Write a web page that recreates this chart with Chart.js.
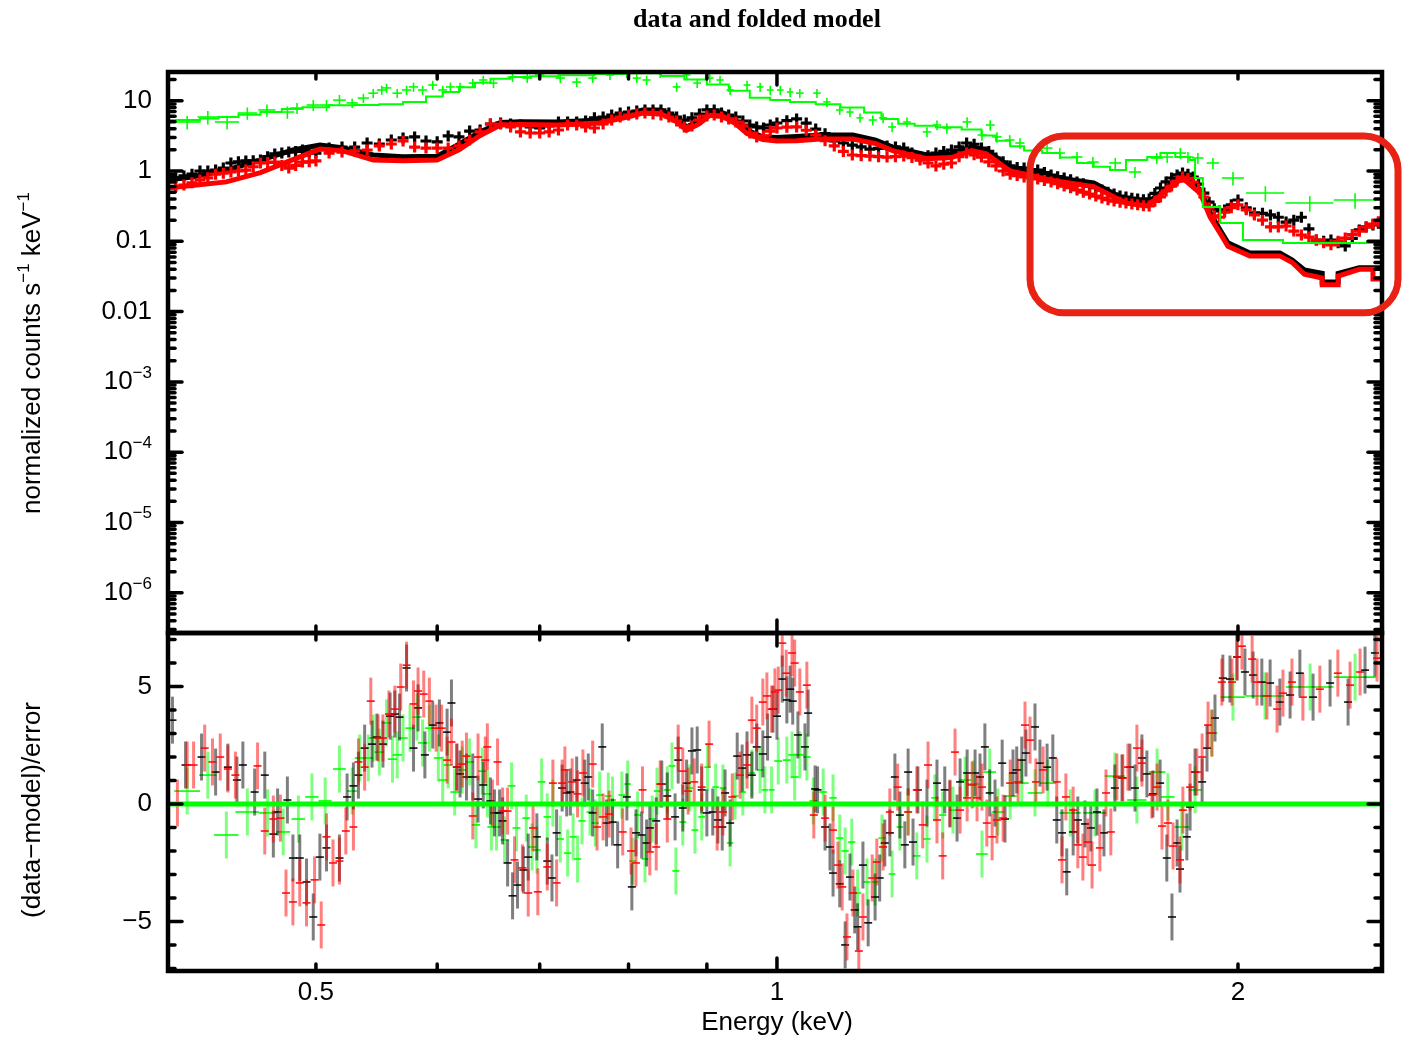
<!DOCTYPE html>
<html>
<head>
<meta charset="utf-8">
<title>data and folded model</title>
<script src="https://cdn.jsdelivr.net/npm/chart.js@4.4.1/dist/chart.umd.min.js"></script>
<style>
  body { margin: 0; background: #fff; }
  #wrap { position: relative; width: 1409px; height: 1039px; }
  #wrap canvas { position: absolute; left: 0; top: 0; }
</style>
</head>
<body>
<div id="wrap">
  <canvas id="spec" width="1409" height="1039"></canvas>
  <canvas id="resid" width="1409" height="1039"></canvas>
</div>
<script>
// axis limits
const xMin = 0.4003, xMax = 2.4835;          // keV
const specMin = 2.68e-7, specMax = 25.6;      // counts s-1 keV-1
const resMin = -7.11, resMax = 7.28;          // sigma

// ---- top panel: data (black = group 1, red = group 2, green = group 3)
const blackE = [0.40,0.41,0.42,0.43,0.44,0.45,0.46,0.47,0.48,0.49,
  0.50,0.51,0.52,0.53,0.54,0.55,0.56,0.57,0.58,0.59,
  0.60,0.61,0.62,0.63,0.64,0.65,0.66,0.67,0.68,0.69,
  0.70,0.71,0.72,0.73,0.74,0.75,0.76,0.77,0.78,0.79,
  0.80,0.81,0.82,0.83,0.84,0.85,0.86,0.87,0.88,0.89,
  0.90,0.91,0.92,0.93,0.94,0.95,0.96,0.97,0.98,0.99,
  1.00,
  1.03,1.06,1.09,1.12,1.15,1.18,1.21,1.24,1.27,1.30,
  1.33,1.36,1.39,1.42,1.45,1.48,1.51,1.54,1.57,1.60,
  1.63,1.66,1.69,1.72,1.75,1.78,1.81,1.84,1.87,1.90,
  1.93,1.96,
  2.00,2.05,2.10,2.15,2.20,2.25,2.30,2.35,2.40,2.45];
const blackC = [0.76,0.85,1.0,1.03,1.30,1.39,1.43,1.75,1.86,1.99,
  1.80,2.12,2.19,2.19,2.5,2.42,2.76,2.95,3.05,2.67,
  2.6,3.15,3.05,3.7,3.83,4.66,4.82,4.66,4.51,4.23,
  4.09,4.37,4.98,4.98,4.98,5.14,5.7,5.86,6.26,6.68,
  6.9,7.13,7.38,7.38,7.38,6.68,5.86,5.31,5.7,6.45,
  7.38,7.38,6.68,6.26,5.86,5.14,4.51,4.23,4.09,4.51,
  4.82,
  5.5,3.95,2.67,2.34,2.05,2.27,2.12,1.58,1.80,1.99,
  2.5,2.12,1.53,1.18,1.10,1.03,0.877,0.795,0.698,0.61,
  0.537,0.47,0.427,0.40,0.40,0.573,0.795,0.937,0.821,0.486,
  0.29,0.279,
  0.387,0.253,0.237,0.188,0.22,0.104,0.104,0.086,0.145,0.171];
const redE = blackE;
const redC = [0.573,0.632,0.745,0.9,0.968,1.03,1.30,1.34,1.10,1.34,
  1.39,1.8,1.86,1.93,1.99,2.27,2.42,2.67,2.19,2.12,
  2.12,2.12,2.27,2.76,3.6,4.66,4.66,4.23,3.6,3.47,
  3.47,3.6,3.83,4.51,4.51,4.23,4.09,4.66,5.31,5.86,
  6.26,6.45,6.68,6.45,6.26,5.86,5.14,4.23,4.37,5.31,
  6.05,6.26,5.86,5.5,4.98,4.37,3.47,3.05,3.15,3.7,
  4.09,
  4.23,3.25,2.27,1.69,1.63,1.58,1.63,1.43,1.18,1.30,
  1.80,1.58,1.18,0.9,0.821,0.77,0.698,0.61,0.537,0.47,
  0.413,0.373,0.351,0.33,0.318,0.427,0.61,0.821,0.698,0.427,
  0.23,0.26,
  0.33,0.237,0.16,0.165,0.123,0.104,0.089,0.111,0.139,0.176];
// channels in between the ones above (the plot is densely sampled)
const fineE = [0.405,0.415,0.425,0.435,0.445,0.455,0.465,0.475,0.485,0.495,
  1.015,1.045,1.075,1.105,1.135,1.165,1.195,1.225,1.255,1.285,
  1.315,1.345,1.375,1.405,1.435,1.465,1.495,1.525,1.555,1.585,
  1.615,1.645,1.675,1.705,1.735,1.765,1.795,1.825,1.855,1.885,
  1.915,1.945,1.98,2.025,2.075,2.125,2.175,2.225,2.275,2.325,
  2.375,2.425,2.47];
const blackFineC = [0.8,0.9,1.0,1.1,1.35,1.4,1.6,1.8,1.9,1.9,
  5.2,4.8,3.4,2.5,2.2,2.1,2.2,1.8,1.65,1.9,
  2.2,2.4,1.9,1.35,1.12,1.05,0.95,0.83,0.75,0.66,
  0.58,0.5,0.44,0.41,0.39,0.48,0.7,0.88,0.9,0.65,
  0.36,0.27,0.33,0.30,0.25,0.22,0.20,0.15,0.10,0.095,
  0.11,0.16,0.18];
const redFineC = [0.6,0.68,0.8,0.93,1.0,1.15,1.32,1.2,1.2,1.35,
  4.2,3.8,2.7,1.9,1.65,1.6,1.6,1.55,1.3,1.25,
  1.6,1.7,1.35,1.0,0.86,0.8,0.73,0.66,0.58,0.5,
  0.44,0.39,0.36,0.34,0.32,0.37,0.52,0.72,0.78,0.55,
  0.3,0.22,0.3,0.28,0.2,0.16,0.14,0.115,0.095,0.1,
  0.125,0.16,0.19];

const greenE = [0.412,0.425,0.4375,0.451,0.4645,0.479,0.486,0.498,0.508,0.518,
  0.528,0.537,0.545,0.552,0.556,0.565,0.573,0.579,0.587,0.596,
  0.605,0.612,0.621,0.633,0.643,0.653,0.672,0.687,0.700,0.722,
  0.740,0.758,0.778,0.798,0.810,0.822,0.839,0.860,0.873,0.887,
  0.904,0.918,0.932,0.956,0.975,0.990,1.005,1.020,1.035,1.062,
  1.078,1.099,1.116,1.133,1.155,1.173,1.189,1.216,1.253,1.272,
  1.291,1.331,1.361,1.378,1.392,1.419,1.441,1.501,1.530,1.570,
  1.608,1.663,1.713,1.770,1.798,1.834,1.855,1.883,1.926,1.985,
  2.084,2.228,2.385];
const greenC = [4.98,5.86,4.98,6.68,7.38,6.9,7.87,8.68,8.68,10.2,
  9.3,10.9,12.8,14.2,15.2,12.8,14.2,15.7,14.2,16.7,
  14.2,15.7,15.7,17.8,19.7,17.8,21.7,21.0,23.2,21.0,
  18.4,21.0,23.2,24.7,21.0,19.7,24.7,15.7,23.2,17.8,
  21.0,19.7,14.2,16.7,15.7,14.2,14.2,13.3,12.8,12.8,
  9.6,7.38,6.9,5.7,5.31,5.7,4.23,4.98,3.6,4.51,
  4.09,4.98,3.25,4.51,3.05,2.76,2.50,2.12,1.80,1.58,
  1.34,1.30,0.968,1.53,1.58,1.80,1.58,1.53,1.30,0.795,
  0.486,0.351,0.387];
// half bin width (keV) and relative 1-sigma error of the green spectrum
const greenBinHalf = [0.0085,0.0065,0.008,0.0065,0.006,0.005,0.005,0.005,0.005,0.005,
  0.0045,0.0045,0.004,0.004,0.004,0.004,0.004,0.004,0.004,0.004,
  0.004,0.004,0.004,0.004,0.004,0.004,0.005,0.005,0.005,0.005,
  0.005,0.005,0.005,0.005,0.005,0.005,0.005,0.005,0.005,0.005,
  0.005,0.005,0.005,0.005,0.005,0.005,0.005,0.005,0.006,0.006,
  0.006,0.006,0.006,0.006,0.007,0.007,0.007,0.007,0.008,0.008,
  0.008,0.009,0.009,0.009,0.010,0.010,0.010,0.012,0.012,0.013,
  0.014,0.015,0.016,0.016,0.016,0.016,0.016,0.016,0.018,0.033,
  0.060,0.080,0.075];
const greenRelErr = [0.22,0.22,0.22,0.2,0.2,0.2,0.18,0.18,0.18,0.18,
  0.15,0.15,0.15,0.15,0.15,0.15,0.15,0.15,0.15,0.15,
  0.15,0.15,0.15,0.15,0.15,0.15,0.15,0.15,0.15,0.15,
  0.15,0.15,0.15,0.15,0.15,0.15,0.15,0.15,0.15,0.15,
  0.15,0.15,0.15,0.15,0.15,0.15,0.15,0.15,0.15,0.15,
  0.15,0.15,0.15,0.15,0.16,0.16,0.16,0.16,0.16,0.16,
  0.17,0.17,0.17,0.17,0.17,0.17,0.17,0.18,0.18,0.18,
  0.18,0.18,0.18,0.18,0.18,0.18,0.18,0.18,0.18,0.22,
  0.25,0.25,0.25];

// ---- top panel: folded models
const blackModelE = [0.40,0.415,0.437,0.46,0.483,0.503,0.52,0.545,0.57,0.60,
  0.62,0.64,0.66,0.68,0.72,0.766,0.80,0.817,0.839,0.86,
  0.873,0.89,0.904,0.922,0.94,0.956,0.979,1.00,1.03,1.067,
  1.121,1.16,1.19,1.253,1.30,1.34,1.37,1.42,1.51,1.61,
  1.69,1.745,1.80,1.84,1.89,1.918,1.947,1.97,2.036,2.13,
  2.17,2.21,2.27,2.27,2.325,2.325,2.40,2.49];
const blackModelC = [0.745,0.82,1.03,1.43,1.99,2.34,2.15,1.69,1.6,1.62,
  2.4,3.6,4.9,5.0,4.98,5.31,6.5,7.38,7.38,5.8,
  4.23,5.2,6.9,6.68,5.2,3.83,3.05,3.0,3.1,3.25,
  3.25,2.75,2.19,1.69,1.75,2.2,1.99,1.14,0.82,0.675,
  0.387,0.351,0.6,0.877,0.537,0.253,0.145,0.095,0.068,0.068,
  0.054,0.039,0.035,0.0264,0.0264,0.035,0.042,0.042];
const redModelE = [0.40,0.415,0.437,0.46,0.483,0.503,0.52,0.545,0.57,0.60,
  0.62,0.64,0.66,0.68,0.72,0.766,0.80,0.817,0.839,0.86,
  0.873,0.89,0.904,0.922,0.94,0.956,0.979,1.00,1.03,1.067,
  1.121,1.16,1.19,1.253,1.30,1.34,1.37,1.42,1.51,1.61,
  1.69,1.745,1.80,1.84,1.89,1.918,1.947,1.97,2.036,2.13,
  2.17,2.21,2.27,2.27,2.325,2.325,2.40,2.45,2.45,2.49];
const redModelC = [0.573,0.62,0.70,0.95,1.45,2.05,1.95,1.43,1.40,1.43,
  2.0,3.2,4.5,4.6,4.51,4.82,5.9,6.68,6.6,5.0,
  3.8,4.7,6.2,6.0,4.7,3.4,2.8,2.67,2.7,2.85,
  2.85,2.45,1.95,1.5,1.55,1.95,1.75,1.0,0.74,0.6,
  0.351,0.318,0.55,0.795,0.48,0.22,0.13,0.085,0.062,0.062,
  0.05,0.034,0.030,0.024,0.024,0.032,0.040,0.040,0.029,0.029];
// green model as bin low edges
const greenModelE = [0.40,0.42,0.432,0.445,0.46,0.475,0.49,0.51,0.53,0.55,
  0.57,0.59,0.605,0.62,0.635,0.65,0.67,0.69,0.72,0.76,
  0.80,0.84,0.87,0.90,0.93,0.96,0.99,1.02,1.06,1.10,
  1.14,1.17,1.20,1.23,1.27,1.32,1.36,1.39,1.42,1.45,
  1.49,1.53,1.57,1.61,1.65,1.69,1.745,1.78,1.82,1.86,
  1.875,1.897,1.947,2.015,2.14,2.31,2.49];
const greenModelC = [4.82,5.31,5.6,5.86,6.3,6.9,7.6,8.1,8.6,8.7,
  8.9,9.6,11.5,13.3,15.5,18.0,20.5,21.7,22.3,23.0,
  24.0,24.5,22.5,20.0,17.0,13.8,11.0,10.2,9.6,8.9,
  8.0,6.8,5.5,4.7,4.4,4.2,3.9,3.2,2.7,2.25,
  1.95,1.8,1.55,1.30,1.15,1.03,1.43,1.58,1.80,1.58,
  1.43,0.795,0.308,0.182,0.104,0.0946,0.0946];

// ---- bottom panel: residuals (data-model)/error
const resBlackE = [0.403,0.411,0.421,0.430,0.438,0.444,0.448,0.456,0.463,0.469,
  0.472,0.479,0.483,0.488,0.493,0.498,0.503,0.508,0.518,0.524,
  0.529,0.533,0.538,0.544,0.548,0.553,0.559,0.563,0.567,0.573,
  0.579,0.583,0.589,0.596,0.602,0.609,0.613,0.618,0.621,0.627,
  0.633,0.638,0.643,0.650,0.654,0.659,0.662,0.667,0.672,0.677,
  0.683,0.688,0.697,0.708,0.713,0.718,0.724,0.729,0.733,0.740,
  0.749,0.753,0.758,0.769,0.774,0.781,0.787,0.798,0.804,0.809,
  0.816,0.822,0.826,0.834,0.841,0.848,0.858,0.862,0.868,0.873,
  0.880,0.887,0.893,0.900,0.908,0.915,0.921,0.925,0.932,0.942,
  0.949,0.956,0.963,0.970,0.979,0.986,0.994,1.000,1.008,1.015,
  1.020,1.024,1.032,1.043,1.048,1.059,1.063,1.075,1.083,1.088,
  1.099,1.108,1.116,1.124,1.129,1.138,1.147,1.159,1.167,1.176,
  1.185,1.194,1.203,1.212,1.218,1.227,1.236,1.253,1.272,1.287,
  1.297,1.311,1.317,1.331,1.347,1.357,1.367,1.377,1.388,1.403,
  1.409,1.426,1.434,1.445,1.454,1.474,1.485,1.501,1.514,1.523,
  1.535,1.546,1.561,1.572,1.589,1.603,1.618,1.635,1.662,1.680,
  1.700,1.713,1.731,1.744,1.760,1.779,1.797,1.811,1.825,1.833,
  1.852,1.861,1.875,1.895,1.909,1.932,1.955,1.976,1.997,2.021,
  2.046,2.073,2.099,2.130,2.163,2.195,2.239,2.297,2.360,2.421,
  2.457];
const resBlackR = [3.57,1.66,2.0,1.36,1.57,1.02,1.66,0.51,1.23,-1.28,
  -0.34,0.17,-2.30,-2.30,-3.32,-4.81,-2.26,-1.87,-2.30,0.30,
  0.77,1.23,2.38,2.55,2.85,2.55,3.74,3.83,3.70,5.79,
  2.38,4.09,2.09,3.36,3.45,3.06,4.30,1.57,1.28,1.15,
  1.15,0.21,0.81,0.13,-0.38,-0.38,-0.72,-2.51,-3.91,-3.45,
  -2.81,-2.26,-1.40,-2.43,-3.15,-1.23,0.68,0.47,0.51,1.02,
  0.89,1.15,-0.38,2.43,-0.81,-0.77,-1.74,0.30,-3.53,-1.23,
  -1.32,-1.66,-1.02,-0.72,0.85,0.34,-0.55,1.87,-0.17,0.89,
  2.26,2.30,0.60,-0.38,-0.34,-0.68,-0.98,0.47,-0.81,2.04,
  1.53,2.09,1.23,2.43,2.13,2.85,4.04,3.74,5.32,4.43,
  4.89,4.38,2.94,2.43,3.87,0.64,0.60,-0.98,-1.83,-2.94,
  -3.40,-6.0,-3.11,-4.51,-5.23,-2.60,-5.06,-3.96,-3.15,-1.66,
  -1.23,1.15,-0.47,-1.74,1.36,-1.62,0.60,0.04,0.89,0.60,
  0.0,-0.60,0.94,1.32,1.32,1.15,2.43,0.47,0.04,1.74,
  -0.64,1.32,1.45,1.87,2.17,3.28,1.74,1.57,1.96,-0.68,
  -1.23,-2.89,-1.19,-0.68,-0.85,-1.02,-0.34,-1.23,0.68,1.11,
  1.57,0.68,1.96,1.28,0.43,0.89,-2.30,-4.81,-1.66,-2.77,
  -1.40,-0.13,1.36,0.94,2.38,3.66,5.36,5.32,6.26,5.62,
  5.49,5.19,5.15,4.34,4.64,5.57,4.55,5.15,4.34,5.70,
  6.43];
const resRedE = [0.406,0.412,0.416,0.423,0.428,0.433,0.438,0.443,0.458,0.463,
  0.469,0.474,0.478,0.483,0.488,0.493,0.499,0.504,0.508,0.513,
  0.518,0.523,0.529,0.533,0.538,0.543,0.549,0.553,0.558,0.563,
  0.568,0.573,0.579,0.583,0.588,0.593,0.599,0.604,0.609,0.613,
  0.618,0.623,0.627,0.633,0.638,0.645,0.647,0.652,0.657,0.662,
  0.667,0.674,0.682,0.688,0.693,0.698,0.708,0.714,0.718,0.724,
  0.727,0.735,0.741,0.747,0.758,0.763,0.770,0.777,0.793,0.803,
  0.809,0.817,0.826,0.834,0.839,0.848,0.862,0.868,0.875,0.883,
  0.893,0.903,0.914,0.922,0.935,0.946,0.956,0.963,0.970,0.979,
  0.985,0.992,0.997,1.002,1.008,1.014,1.023,1.027,1.035,1.046,
  1.057,1.075,1.088,1.096,1.103,1.111,1.121,1.131,1.138,1.154,
  1.162,1.173,1.185,1.199,1.218,1.234,1.245,1.255,1.272,1.283,
  1.297,1.307,1.317,1.331,1.341,1.351,1.361,1.371,1.382,1.392,
  1.405,1.420,1.437,1.452,1.463,1.476,1.492,1.523,1.535,1.544,
  1.561,1.572,1.584,1.596,1.606,1.625,1.640,1.652,1.667,1.682,
  1.695,1.718,1.731,1.757,1.771,1.784,1.800,1.814,1.833,1.841,
  1.861,1.880,1.895,1.912,1.923,1.952,1.982,1.997,2.012,2.043,
  2.058,2.089,2.121,2.140,2.169,2.205,2.262,2.324,2.367,2.403,
  2.465];
const resRedR = [0.04,1.66,1.66,2.38,1.79,2.0,1.49,1.23,1.62,-1.15,
  -0.64,-0.60,-3.79,-4.17,-3.36,-4.21,-3.23,-5.15,-1.40,-2.51,
  -2.43,-1.15,-0.98,1.79,1.57,4.38,2.81,2.81,3.83,4.04,
  4.98,5.91,4.26,4.81,4.68,4.38,3.23,3.23,1.87,2.64,
  1.57,1.70,2.04,-0.51,2.0,1.87,2.43,0.04,1.79,-0.30,
  -0.30,-2.38,-2.72,-3.79,-1.02,-3.74,-2.68,0.89,-3.36,0.89,
  1.45,0.94,0.43,1.32,1.70,-0.98,-0.55,-0.43,-1.19,-2.0,
  -2.51,0.60,-2.04,-1.83,0.85,-0.64,2.38,1.40,0.55,0.94,
  0.72,2.55,-0.98,-0.34,0.30,1.23,1.66,3.57,3.23,4.34,
  4.60,4.04,4.77,4.85,6.85,5.57,6.43,6.0,4.77,5.06,
  -0.47,-0.60,-1.11,-2.60,-3.53,-5.66,-3.79,-6.26,-4.81,-3.15,
  -2.47,-1.83,-0.34,0.72,-0.34,0.60,-0.89,1.66,-0.68,-2.21,
  0.04,2.21,-0.26,0.26,0.81,0.26,0.72,-0.81,-1.40,-0.68,
  -0.60,0.89,0.94,3.36,2.72,0.94,1.45,0.94,-2.38,0.30,
  -0.26,-1.74,-2.26,-1.62,-2.60,-1.87,0.47,-1.19,1.15,1.11,
  1.57,2.38,1.74,0.38,0.72,-0.94,-0.81,-1.79,-2.38,-0.26,
  0.72,1.36,2.0,3.36,3.02,5.19,5.19,6.26,6.72,6.17,
  5.19,4.60,4.04,4.72,5.19,4.55,4.89,5.57,5.06,5.62,
  6.21];
const resGreenE = [0.412,0.425,0.437,0.451,0.465,0.476,0.487,0.497,0.507,0.518,
  0.528,0.534,0.541,0.545,0.550,0.556,0.561,0.565,0.570,0.576,
  0.582,0.587,0.593,0.601,0.605,0.610,0.616,0.623,0.630,0.636,
  0.642,0.647,0.651,0.656,0.664,0.671,0.676,0.686,0.692,0.697,
  0.702,0.708,0.714,0.722,0.730,0.736,0.741,0.746,0.755,0.761,
  0.766,0.776,0.781,0.792,0.799,0.805,0.811,0.820,0.829,0.835,
  0.848,0.854,0.859,0.868,0.877,0.884,0.893,0.901,0.912,0.922,
  0.932,0.939,0.950,0.963,0.975,0.982,0.992,1.002,1.015,1.023,
  1.027,1.035,1.046,1.056,1.072,1.088,1.099,1.108,1.119,1.129,
  1.145,1.159,1.171,1.189,1.203,1.218,1.234,1.253,1.268,1.283,
  1.303,1.327,1.343,1.361,1.377,1.394,1.420,1.445,1.474,1.503,
  1.554,1.613,1.662,1.718,1.771,1.800,1.838,1.875,1.923,1.985,
  2.083,2.229,2.385];
const resGreenR = [0.55,1.23,-1.32,-0.34,-0.38,-1.19,-0.64,0.30,0.13,1.49,
  0.55,1.96,1.96,2.81,2.21,3.45,1.91,2.09,2.81,3.23,
  3.70,2.60,3.23,1.96,1.02,1.66,0.51,1.45,1.79,-0.89,
  1.40,0.43,-0.98,-0.98,-1.53,0.77,-1.02,-0.60,-1.83,-1.96,
  0.94,-0.55,0.04,-1.49,-2.09,-1.40,-2.34,-0.72,-0.34,-0.81,
  0.38,0.34,0.17,0.38,0.85,-2.43,-0.47,-2.34,-0.64,0.55,
  0.60,1.62,-2.85,-0.77,0.68,-1.11,-0.55,1.57,0.72,0.68,
  -1.66,0.34,0.51,1.32,1.45,0.60,0.60,1.83,1.87,2.09,
  1.15,2.09,2.0,0.13,0.51,0.26,-1.45,-2.0,-1.62,-3.79,
  -3.32,-3.32,-1.45,-2.98,-0.98,-0.34,-2.21,-1.49,0.26,-0.47,
  -0.26,1.02,0.85,-2.13,1.36,-0.34,0.34,0.89,0.47,0.89,
  -0.38,-0.38,1.19,0.17,1.36,0.30,-0.98,0.60,3.02,4.55,
  4.60,4.98,5.40];
const resGreenBinHalf = [0.008,0.0055,0.008,0.008,0.006,0.005,0.005,0.005,0.005,0.005,
  0.004,0.004,0.004,0.004,0.004,0.004,0.004,0.004,0.004,0.004,
  0.004,0.004,0.004,0.004,0.004,0.004,0.004,0.004,0.004,0.004,
  0.004,0.004,0.004,0.004,0.004,0.004,0.004,0.004,0.004,0.004,
  0.004,0.004,0.004,0.004,0.004,0.004,0.004,0.004,0.004,0.004,
  0.004,0.004,0.004,0.004,0.004,0.004,0.004,0.004,0.004,0.004,
  0.0045,0.0045,0.0045,0.0045,0.0045,0.0045,0.0045,0.0045,0.0045,0.0045,
  0.0045,0.0045,0.0045,0.0045,0.0045,0.0045,0.0045,0.006,0.006,0.006,
  0.006,0.006,0.006,0.006,0.006,0.006,0.006,0.006,0.006,0.006,
  0.006,0.006,0.006,0.006,0.006,0.006,0.007,0.007,0.007,0.007,
  0.007,0.012,0.012,0.012,0.013,0.013,0.014,0.015,0.016,0.018,
  0.025,0.028,0.025,0.025,0.022,0.018,0.020,0.018,0.016,0.037,
  0.060,0.080,0.075];
const residSigma = 1;   // residual error bars are +-1 sigma by definition
const zeroE = [xMin, xMax];
const zeroR = [0, 0];

// tick values and labels
const xMajorTicks = [1];
const xMinorTicks = [0.5, 0.6, 0.7, 0.8, 0.9, 2];
const xLabelVals = [0.5, 1, 2];
const xLabelText = ['0.5', '1', '2'];
const specDecades = [1e-7, 1e-6, 1e-5, 1e-4, 1e-3, 0.01, 0.1, 1, 10];
const specLabelVals = [10, 1, 0.1, 0.01, 1e-3, 1e-4, 1e-5, 1e-6];
const specLabelText = ['10', '1', '0.1', '0.01', '10^\u22123', '10^\u22124', '10^\u22125', '10^\u22126'];
const resMajorTicks = [-5, 0, 5];
const resMinorTicks = [-7, -6, -4, -3, -2, -1, 1, 2, 3, 4, 6, 7];
const resLabelVals = [5, 0, -5];
const resLabelText = ['5', '0', '\u22125'];

// annotation box (keV, counts)
const boxEnergy = [1.463, 2.544];
const boxCounts = [3.15, 0.0096];

const FONT = '"Liberation Sans", Arial, Helvetica, sans-serif';
const TEXT_SIZE = 26;

const pts = (xs, ys) => xs.map((x, i) => ({ x: x, y: ys[i] }));

// text with ^superscripts
function drawRich(ctx, str, x, y, align, size) {
  const parts = str.split(/(\^\S+)/).filter(s => s.length);
  const big = size + 'px ' + FONT;
  const small = Math.round(size * 0.64) + 'px ' + FONT;
  const segs = parts.map(p => {
    const sup = p[0] === '^';
    const t = sup ? p.slice(1) : p;
    ctx.font = sup ? small : big;
    return { t: t, sup: sup, w: ctx.measureText(t).width };
  });
  const total = segs.reduce((s, g) => s + g.w, 0);
  let cx = align === 'right' ? x - total : align === 'center' ? x - total / 2 : x;
  ctx.textAlign = 'left';
  ctx.textBaseline = 'middle';
  segs.forEach(g => {
    ctx.font = g.sup ? small : big;
    ctx.fillText(g.t, cx, g.sup ? y - size * 0.34 : y);
    cx += g.w;
  });
}

// error bars, drawn just before their own dataset
const errorBars = {
  id: 'errorBars',
  beforeDatasetDraw(chart, args) {
    const ds = chart.data.datasets[args.index];
    const eb = ds.errorBars;
    if (!eb) return;
    const xs = chart.scales.x, ys = chart.scales.y, a = chart.chartArea, ctx = chart.ctx;
    ctx.save();
    ctx.beginPath();
    ctx.rect(a.left, a.top, a.right - a.left, a.bottom - a.top);
    ctx.clip();
    ds.data.forEach((p, i) => {
      const px = xs.getPixelForValue(p.x), py = ys.getPixelForValue(p.y);
      if (eb.yLo) {
        ctx.strokeStyle = eb.yColor; ctx.lineWidth = eb.yWidth;
        ctx.beginPath();
        ctx.moveTo(px, ys.getPixelForValue(eb.yLo[i]));
        ctx.lineTo(px, ys.getPixelForValue(eb.yHi[i]));
        ctx.stroke();
      }
      if (eb.xLo) {
        ctx.strokeStyle = eb.xColor; ctx.lineWidth = eb.xWidth;
        ctx.beginPath();
        ctx.moveTo(xs.getPixelForValue(eb.xLo[i]), py);
        ctx.lineTo(xs.getPixelForValue(eb.xHi[i]), py);
        ctx.stroke();
      }
    });
    ctx.restore();
  }
};

// PGPLOT style box with inward ticks and labels
const frame = {
  id: 'frame',
  afterDraw(chart, args, o) {
    const ctx = chart.ctx, a = chart.chartArea, xs = chart.scales.x, ys = chart.scales.y;
    ctx.save();
    ctx.strokeStyle = '#000';
    ctx.lineCap = 'round';
    const seg = (x1, y1, x2, y2) => { ctx.beginPath(); ctx.moveTo(x1, y1); ctx.lineTo(x2, y2); ctx.stroke(); };
    ctx.lineWidth = 3.5;
    const xt = (v, len) => { const p = xs.getPixelForValue(v); seg(p, a.top, p, a.top + len); seg(p, a.bottom, p, a.bottom - len); };
    const yt = (v, len) => {
      const p = ys.getPixelForValue(v);
      if (p < a.top - 1 || p > a.bottom + 1) return;
      seg(a.left, p, a.left + len, p); seg(a.right, p, a.right - len, p);
    };
    o.xMajor.forEach(v => xt(v, 13));
    o.xMinor.forEach(v => xt(v, 7));
    o.yMajor.forEach(v => yt(v, 14));
    o.yMinor.forEach(v => yt(v, 7));
    ctx.lineCap = 'butt';
    ctx.lineWidth = 4.5;
    ctx.strokeRect(a.left, a.top, a.right - a.left, a.bottom - a.top);

    ctx.fillStyle = '#000';
    o.yLabelVals.forEach((v, i) => drawRich(ctx, o.yLabelText[i], 152, ys.getPixelForValue(v), 'right', TEXT_SIZE));
    if (o.xLabelVals) {
      o.xLabelVals.forEach((v, i) => drawRich(ctx, o.xLabelText[i], xs.getPixelForValue(v), 993, 'center', TEXT_SIZE));
    }
    if (o.title) {
      ctx.font = 'bold 26px "Liberation Serif", "Times New Roman", serif';
      ctx.textAlign = 'center'; ctx.textBaseline = 'middle';
      ctx.fillText(o.title, 757, 20);
    }
    if (o.xTitle) drawRich(ctx, o.xTitle, 777, 1023, 'center', TEXT_SIZE);
    if (o.yTitle) {
      ctx.save();
      ctx.translate(33, o.yTitleY);
      ctx.rotate(-Math.PI / 2);
      drawRich(ctx, o.yTitle, 0, 0, 'center', TEXT_SIZE);
      ctx.restore();
    }
    ctx.restore();
  }
};

const redBox = {
  id: 'redBox',
  afterDraw(chart) {
    const ctx = chart.ctx, xs = chart.scales.x, ys = chart.scales.y;
    const x1 = xs.getPixelForValue(boxEnergy[0]), x2 = xs.getPixelForValue(boxEnergy[1]);
    const y1 = ys.getPixelForValue(boxCounts[0]), y2 = ys.getPixelForValue(boxCounts[1]);
    ctx.save();
    ctx.strokeStyle = 'rgb(232,34,20)';
    ctx.lineWidth = 7;
    ctx.beginPath();
    ctx.roundRect(x1, y1, x2 - x1, y2 - y1, 34);
    ctx.stroke();
    ctx.restore();
  }
};

function baseOptions(yType, yMin, yMax, padding, frameOpts) {
  return {
    responsive: false,
    animation: false,
    devicePixelRatio: 1,
    events: [],
    layout: { padding: padding },
    scales: {
      x: { type: 'logarithmic', min: xMin, max: xMax, display: false },
      y: { type: yType, min: yMin, max: yMax, display: false }
    },
    plugins: { legend: { display: false }, tooltip: { enabled: false }, frame: frameOpts }
  };
}

// ---------- spectrum panel
const specMinor = [];
specDecades.forEach(d => [2, 3, 4, 5, 6, 7, 8, 9].forEach(m => specMinor.push(d * m)));

const crossStyle = { pointStyle: 'cross', pointRadius: 5.5, pointBorderWidth: 3.2, clip: 0 };

new Chart(document.getElementById('spec'), {
  type: 'scatter',
  data: {
    datasets: [
      { label: 'green model', data: pts(greenModelE, greenModelC), showLine: true, stepped: 'after',
        borderColor: '#00ff00', borderWidth: 2, pointRadius: 0, order: 0, clip: 0 },
      { label: 'green data', data: pts(greenE, greenC), pointRadius: 0, order: 1, clip: 0,
        errorBars: {
          xLo: greenE.map((e, i) => e - greenBinHalf[i]), xHi: greenE.map((e, i) => e + greenBinHalf[i]),
          yLo: greenC.map((c, i) => c * (1 - greenRelErr[i])), yHi: greenC.map((c, i) => c * (1 + greenRelErr[i])),
          xColor: '#00ff00', yColor: '#00ff00', xWidth: 1.6, yWidth: 1.6 } },
      Object.assign({ label: 'red data', data: pts(redE, redC).concat(pts(fineE, redFineC)),
        borderColor: '#ff0000', order: 2 }, crossStyle),
      { label: 'red model', data: pts(redModelE, redModelC), showLine: true,
        borderColor: '#ff0000', borderWidth: 5, pointRadius: 0, order: 3, clip: 0 },
      Object.assign({ label: 'black data', data: pts(blackE, blackC).concat(pts(fineE, blackFineC)),
        borderColor: '#000000', order: 4 }, crossStyle),
      { label: 'black model', data: pts(blackModelE, blackModelC), showLine: true,
        borderColor: '#000000', borderWidth: 5, pointRadius: 0, order: 5, clip: 0 }
    ]
  },
  options: baseOptions('logarithmic', specMin, specMax, { left: 168, top: 72, right: 27, bottom: 406 }, {
    xMajor: xMajorTicks, xMinor: xMinorTicks, yMajor: specDecades, yMinor: specMinor,
    yLabelVals: specLabelVals, yLabelText: specLabelText,
    title: 'data and folded model',
    yTitle: 'normalized counts s^\u22121 keV^\u22121', yTitleY: 353
  }),
  plugins: [errorBars, frame, redBox]
});

// ---------- residual panel
const vbar = R => ({ yLo: R.map(r => r - residSigma), yHi: R.map(r => r + residSigma) });

new Chart(document.getElementById('resid'), {
  type: 'scatter',
  data: {
    datasets: [
      { label: 'zero', data: pts(zeroE, zeroR), showLine: true, borderColor: '#00ff00', borderWidth: 5,
        pointRadius: 0, order: 0, clip: 0 },
      { label: 'red', data: pts(resRedE, resRedR), pointStyle: 'line', pointRadius: 4,
        borderColor: '#ff0000', pointBorderWidth: 1.5, order: 1, clip: 0,
        errorBars: Object.assign(vbar(resRedR), { yColor: 'rgba(255,0,0,0.5)', yWidth: 3 }) },
      { label: 'black', data: pts(resBlackE, resBlackR), pointStyle: 'line', pointRadius: 4,
        borderColor: '#000000', pointBorderWidth: 1.5, order: 2, clip: 0,
        errorBars: Object.assign(vbar(resBlackR), { yColor: 'rgba(0,0,0,0.5)', yWidth: 3 }) },
      { label: 'green', data: pts(resGreenE, resGreenR), pointRadius: 0, order: 3, clip: 0,
        errorBars: Object.assign(vbar(resGreenR), {
          yColor: 'rgba(0,255,0,0.5)', yWidth: 3,
          xLo: resGreenE.map((e, i) => e - resGreenBinHalf[i]), xHi: resGreenE.map((e, i) => e + resGreenBinHalf[i]),
          xColor: '#00ff00', xWidth: 1.6 }) }
    ]
  },
  options: baseOptions('linear', resMin, resMax, { left: 168, top: 633, right: 27, bottom: 68 }, {
    xMajor: xMajorTicks, xMinor: xMinorTicks, yMajor: resMajorTicks, yMinor: resMinorTicks,
    yLabelVals: resLabelVals, yLabelText: resLabelText,
    xLabelVals: xLabelVals, xLabelText: xLabelText,
    xTitle: 'Energy (keV)',
    yTitle: '(data\u2212model)/error', yTitleY: 810
  }),
  plugins: [errorBars, frame]
});
</script>
</body>
</html>
